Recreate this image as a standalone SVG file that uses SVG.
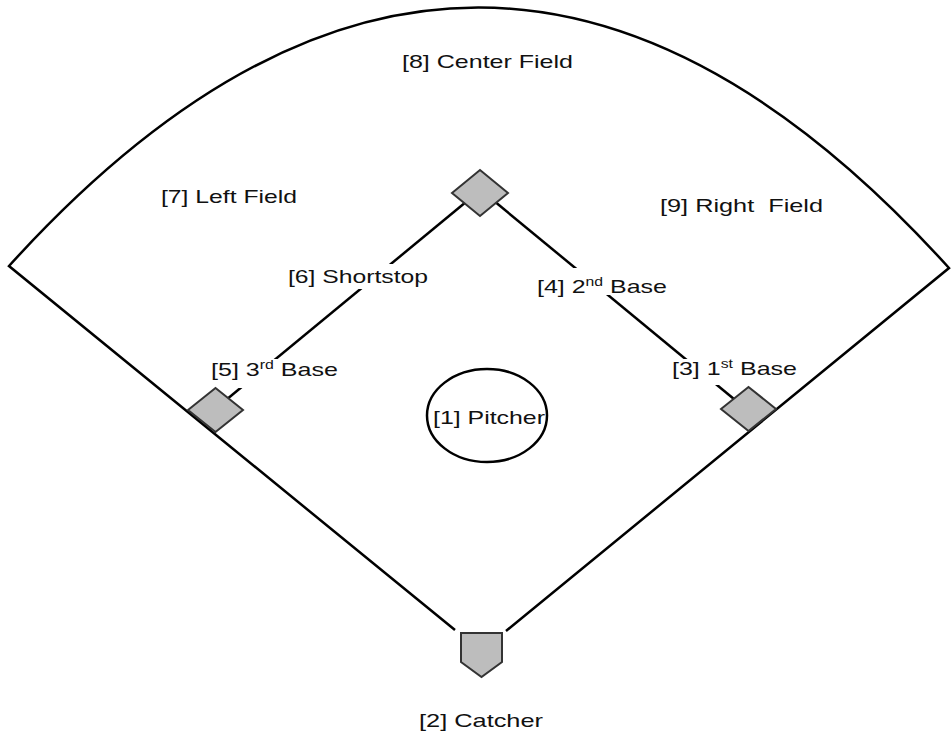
<svg xmlns="http://www.w3.org/2000/svg" width="952" height="738" viewBox="0 0 952 738">
<style>
.ln{fill:none;stroke:#000;stroke-width:2.5;stroke-linejoin:miter}
.base{fill:#bdbdbd;stroke:#333;stroke-width:2}
.lbl{font-family:"Liberation Sans",Arial,sans-serif;font-size:19px;fill:#111}
.bg{fill:#fff;stroke:none}
</style>
<rect width="952" height="738" fill="#fff"/>
<g id="connectors">
<path class="ln" d="M455,630 L9,266 Q479,-252 949,268 L506,631"/>
<line class="ln" x1="472" y1="197" x2="226" y2="400"/>
<line class="ln" x1="488" y1="196" x2="740" y2="404"/>
</g>
<g id="label-backgrounds">
<rect class="bg" x="286" y="264" width="144" height="25"/>
<rect class="bg" x="535" y="268" width="134" height="27"/>
<rect class="bg" x="207" y="359" width="135" height="29"/>
<rect class="bg" x="670" y="359" width="129" height="26"/>
</g>
<g id="second-base"><polygon class="base" points="452,193 480,170 508,193 480,216"/></g>
<g id="third-base"><polygon class="base" points="188,410 215.5,388 243,410 215.5,432"/></g>
<g id="first-base"><polygon class="base" points="721,409 748.5,387 776,409 748.5,431"/></g>
<g id="home-plate"><polygon class="base" points="461,633 502,633 502,662 481.5,677 461,662"/></g>
<g id="pitcher">
<ellipse cx="487" cy="415.5" rx="60" ry="46.5" fill="none" stroke="#000" stroke-width="2.5"/>
<text class="lbl" x="433" y="424" textLength="112" lengthAdjust="spacingAndGlyphs">[1] Pitcher</text>
</g>
<g id="catcher"><text class="lbl" x="419" y="727" textLength="124" lengthAdjust="spacingAndGlyphs">[2] Catcher</text></g>
<g id="first-base-label"><text class="lbl" x="672" y="375" textLength="125" lengthAdjust="spacingAndGlyphs">[3] 1<tspan font-size="12" baseline-shift="7">st</tspan> Base</text></g>
<g id="second-base-label"><text class="lbl" x="537" y="293" textLength="130" lengthAdjust="spacingAndGlyphs">[4] 2<tspan font-size="12" baseline-shift="7">nd</tspan> Base</text></g>
<g id="third-base-label"><text class="lbl" x="211" y="376" textLength="127" lengthAdjust="spacingAndGlyphs">[5] 3<tspan font-size="12" baseline-shift="7">rd</tspan> Base</text></g>
<g id="shortstop"><text class="lbl" x="288" y="283" textLength="140" lengthAdjust="spacingAndGlyphs">[6] Shortstop</text></g>
<g id="left-field"><text class="lbl" x="161" y="203" textLength="136" lengthAdjust="spacingAndGlyphs">[7] Left Field</text></g>
<g id="center-field"><text class="lbl" x="402" y="68" textLength="171" lengthAdjust="spacingAndGlyphs">[8] Center Field</text></g>
<g id="right-field"><text class="lbl" x="660" y="212" textLength="163" lengthAdjust="spacingAndGlyphs" xml:space="preserve">[9] Right  Field</text></g>
</svg>
